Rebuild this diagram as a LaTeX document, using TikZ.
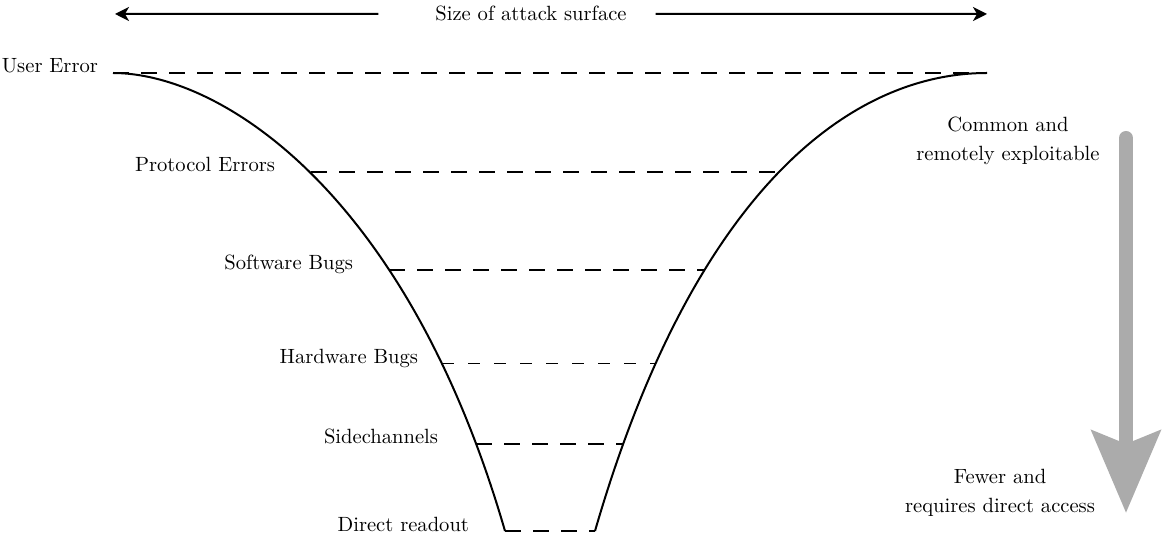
\documentclass[tikz,border=0pt]{standalone}
\usepackage{tikz}
\usetikzlibrary{arrows.meta}

\definecolor{arrowgray}{HTML}{ABABAB}

\begin{document}
\begin{tikzpicture}[x=0.5pt, y=-0.5pt, line width=1pt,
        label_style/.style={anchor=base east, inner sep=0pt, font=\fontsize{10.3}{14.5}\selectfont},
        note_style/.style={anchor=north, inner sep=0pt, align=center, font=\fontsize{10.3}{14.5}\selectfont},
        title_style/.style={anchor=base, inner sep=0pt, font=\fontsize{10.3}{14.5}\selectfont},
        level_style/.style={draw=black, line width=1pt, dash pattern=on 8pt off 6pt},
        thin_level_style/.style={draw=black, line width=0.5pt, dash pattern=on 6pt off 7pt},
        funnel_style/.style={draw=black, line width=1pt},
        size_arrow_style/.style={draw=black, line width=1pt, -{Stealth[length=7pt, width=7pt, inset=2pt]}},
        fall_arrow_style/.style={draw=arrowgray, line width=7pt, line cap=round, -{Stealth[length=41pt, width=34pt, inset=6.5pt]}}]

        \useasboundingbox (0,0) rectangle (1162,539);

        % funnel levels
        \coordinate (l0) at (113,73);  \coordinate (r0) at (987,73);
        \coordinate (l1) at (311,172); \coordinate (r1) at (779,172);
        \coordinate (l2) at (389,270); \coordinate (r2) at (705,270);
        \coordinate (l3) at (442,364); \coordinate (r3) at (655,364);
        \coordinate (l4) at (476,444); \coordinate (r4) at (623,444);
        \coordinate (l5) at (505,531); \coordinate (r5) at (595,531);

        \draw [funnel_style] (l0) .. controls (220,73) and (406.4,191) .. (l5);
        \draw [funnel_style] (r0) .. controls (850,73) and (693.6,191) .. (r5);

        \draw [level_style] (l0) -- (r0);
        \draw [level_style] (l1) -- (r1);
        \draw [level_style] (l2) -- (r2);
        \draw [thin_level_style] (l3) -- (r3);
        \draw [level_style] (l4) -- (r4);
        \draw [level_style] (l5) -- (r5);

        \node [label_style](user_error) at (99,73) {User Error};
        \node [label_style](protocol) at (276,172) {Protocol Errors};
        \node [label_style](software) at (354,270) {Software Bugs};
        \node [label_style](hardware) at (419,364) {Hardware Bugs};
        \node [label_style](sidechannels) at (439,444) {Sidechannels};
        \node [label_style](readout) at (470,531) {Direct readout};

        % attack surface
        \node [title_style](size) at (531,21) {Size of attack surface};
        \coordinate (size_left) at (115,14);
        \coordinate (size_right) at (987,14);
        \draw [size_arrow_style, shorten <=28pt] (size.west) -- (size_left);
        \draw [size_arrow_style, shorten <=14pt] (size.east) -- (size_right);

        % exploitability
        \node [note_style](common) at (1008,116) {Common and\\remotely exploitable};
        \node [note_style](fewer) at (1000,468) {Fewer and\\requires direct access};
        \coordinate (fall_top) at (1126,138);
        \coordinate (fall_tip) at (1126,513);
        \draw [fall_arrow_style] (fall_top) -- (fall_tip);
\end{tikzpicture}
\end{document}
